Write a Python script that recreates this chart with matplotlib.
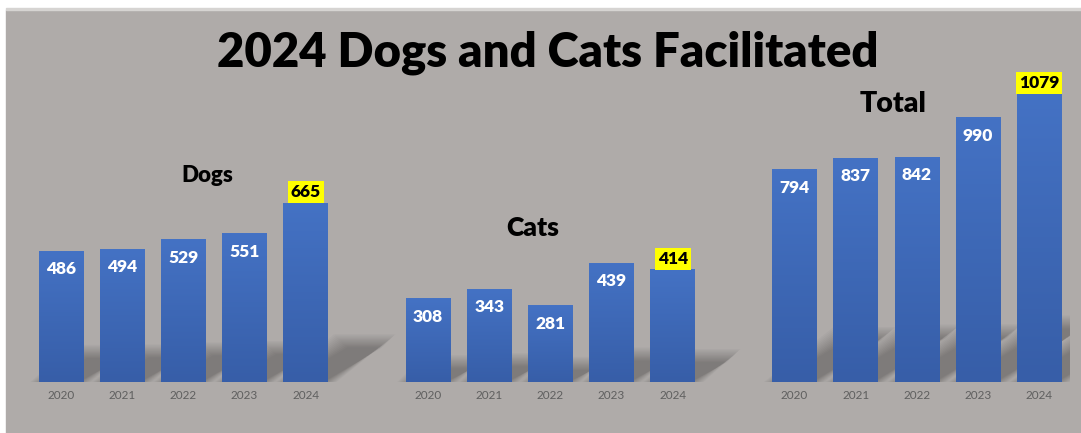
import numpy as np
import matplotlib.pyplot as plt
from matplotlib.patches import Polygon, Rectangle

years = ['2020', '2021', '2022', '2023', '2024']
dogs = [486, 494, 529, 551, 665]
cats = [308, 343, 281, 439, 414]
total = [794, 837, 842, 990, 1079]

W, H = 1081, 433
BASE = 382          # baseline, px from top
TOP = 10            # top of the gray panel
FONT = 'Lato'

bg = '#afaba9'
top_blue = np.array([0x44, 0x72, 0xc4]) / 255
bot_blue = np.array([0x37, 0x5e, 0xa8]) / 255

fig = plt.figure(figsize=(W / 100, H / 100), dpi=100)
fig.patch.set_facecolor('white')
fig.add_artist(Rectangle((6 / W, 0), 1 - 6 / W, 1 - TOP / H,
                         transform=fig.transFigure, color=bg, zorder=-10))
fig.add_artist(Rectangle((6 / W, 1 - TOP / H), 1 - 6 / W, 1.5 / H,
                         transform=fig.transFigure, color='#d6d4d2', zorder=-9))


def panel(left, vals, ymax, name, name_xy, name_size, clip_shadow):
    width_px = 306
    ax = fig.add_axes([left / W, (H - BASE) / H, width_px / W, (BASE - TOP) / H])
    ax.set_facecolor('none')
    ax.set_xlim(-0.5, 4.5)
    ax.set_ylim(0, ymax)
    x = np.arange(len(vals))
    bw = 0.73
    bars = ax.bar(x, vals, width=bw, color=top_blue, zorder=3)

    px_x = width_px / 5                  # pixels per x unit
    px_y = (BASE - TOP) / ymax           # pixels per value unit

    grad = np.linspace(0, 1, 64)[:, None, None]
    grad = top_blue * (1 - grad) + bot_blue * grad
    for b in bars:
        x0, h = b.get_x(), b.get_height()
        ax.imshow(grad, extent=[x0, x0 + bw, 0, h], aspect='auto',
                  interpolation='bilinear', zorder=3.5)

        # soft cast shadow leaning up and to the right
        dx = 0.33 * h * px_y / px_x
        dy = 0.22 * h
        for k in range(12):
            e = (k - 4) * 1.2
            ex, ey = e / px_x, e / px_y
            pts = [(x0 - ex, 0), (x0 + bw + ex, 0),
                   (x0 + bw + dx + ex, dy + ey), (x0 + dx - ex, dy + ey)]
            ax.add_patch(Polygon(pts, closed=True, facecolor='black',
                                 edgecolor='none', alpha=0.022, zorder=1,
                                 clip_on=clip_shadow))

    for i, (b, v) in enumerate(zip(bars, vals)):
        cx = b.get_x() + bw / 2
        if i == len(vals) - 1:
            ax.annotate(str(v), (cx, v), xytext=(0, 11), textcoords='offset pixels',
                        ha='center', va='center', fontsize=12.5, fontweight='heavy',
                        family=FONT, color='black', zorder=6,
                        bbox=dict(boxstyle='square,pad=0.16', fc='#ffff00', ec='none'))
        else:
            ax.annotate(str(v), (cx, v), xytext=(0, -18), textcoords='offset pixels',
                        ha='center', va='center', fontsize=12.5, fontweight='heavy',
                        family=FONT, color='white', zorder=6)

    ax.set_xticks(x)
    ax.set_xticklabels(years, family=FONT, fontsize=8.5, color='#5f5f5f')
    ax.tick_params(axis='x', length=0, pad=6)
    ax.set_yticks([])
    for s in ax.spines.values():
        s.set_visible(False)

    fig.text(name_xy[0] / W, 1 - name_xy[1] / H, name, ha='center', va='center',
             fontsize=name_size, fontweight='heavy', family=FONT, color='black')
    return ax


panel(30.4, dogs, 1383, 'Dogs', (207, 175), 16, False)
panel(397.4, cats, 1373, 'Cats', (533, 228), 19, False)
panel(763.9, total, 1393, 'Total', (893, 104), 20.5, True)

fig.text(548 / W, 1 - 53 / H, '2024 Dogs and Cats Facilitated', ha='center',
         va='center', fontsize=34, fontweight='heavy', family=FONT, color='black')

fig.savefig('out.png', dpi=100, facecolor=fig.get_facecolor())
